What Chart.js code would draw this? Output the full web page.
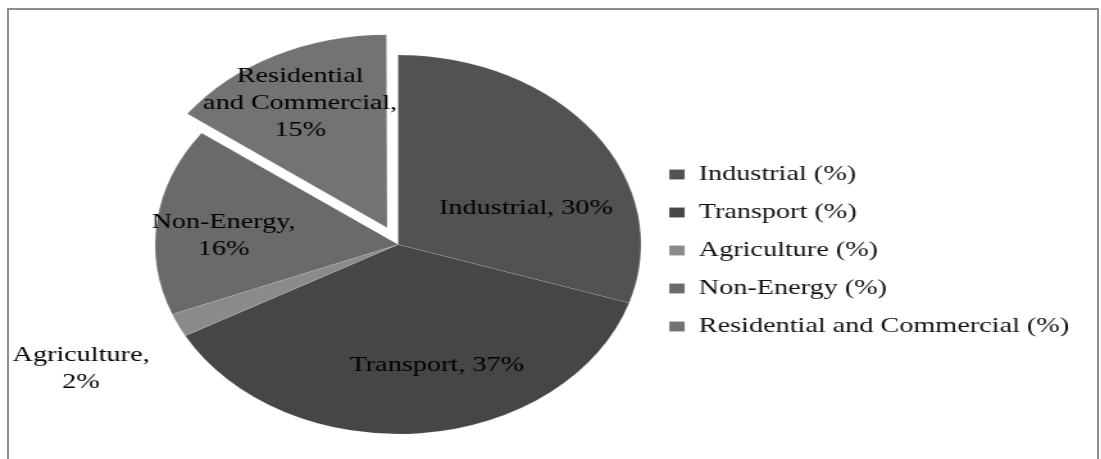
<!DOCTYPE html>
<html>
<head>
<meta charset="utf-8">
<title>Energy use by sector</title>
<script src="https://cdn.jsdelivr.net/npm/chart.js@4"></script>
<style>
  html, body { margin: 0; padding: 0; background: #fff; width: 1101px; height: 459px; overflow: hidden; }
  .frame {
    position: absolute; left: 7px; top: 8px; width: 1088px; height: 480px;
    border: 2px solid #8e8e8e; border-bottom: none;
  }
  /* the figure is drawn narrow and widened, so the pie comes out as an ellipse */
  .stretch { position: absolute; left: 0; top: 0; transform: scaleX(1.282); transform-origin: 0 0; }
</style>
</head>
<body>
<div class="frame"></div>
<div class="stretch"><canvas id="sectorChart" width="859" height="459"></canvas></div>
<script>
// sectors and their share of consumption (%)
const categories = ['Industrial', 'Transport', 'Agriculture', 'Non-Energy', 'Residential and Commercial'];
const shares = [30, 37, 2, 16, 15];
const legendLabels = categories.map(c => c + ' (%)');

const sliceColors = ['#525252', '#464646', '#8a8a8a', '#6a6a6a', '#737373'];
const sliceOffset = [0, 0, 0, 0, 75];

// where each slice label sits: fraction along the arc, fraction of the radius, words per line
const labelPlace = [
  { along: 0.65, radius: 0.56, wrap: [2] },
  { along: 0.435, radius: 0.655, wrap: [2] },
  { along: 0.3, radius: 1.46, wrap: [1, 1] },
  { along: 0.44, radius: 0.72, wrap: [1, 1] },
  { along: 0.47, radius: 0.73, wrap: [1, 2, 1] }
];

const sliceLabels = {
  id: 'sliceLabels',
  afterDatasetsDraw(chart) {
    const ctx = chart.ctx;
    const meta = chart.getDatasetMeta(0);
    ctx.save();
    ctx.font = '22px "Liberation Serif"';
    ctx.fillStyle = '#000';
    ctx.textAlign = 'center';
    ctx.textBaseline = 'middle';
    meta.data.forEach((arc, i) => {
      const p = arc.getProps(['x', 'y', 'startAngle', 'endAngle', 'outerRadius', 'circumference'], true);
      const mid = (p.startAngle + p.endAngle) / 2;
      // same shift the arc element applies to an offset slice
      const base = sliceOffset[i] / 4;
      const shift = base + base * (1 - Math.sin(Math.min(Math.PI, p.circumference)));
      const cx = p.x + Math.cos(mid) * shift;
      const cy = p.y + Math.sin(mid) * shift;
      const place = labelPlace[i];
      const a = p.startAngle + (p.endAngle - p.startAngle) * place.along;
      const lx = cx + Math.cos(a) * p.outerRadius * place.radius;
      const ly = cy + Math.sin(a) * p.outerRadius * place.radius;
      const words = (categories[i] + ', ' + shares[i] + '%').split(' ');
      const lines = [];
      let k = 0;
      place.wrap.forEach(n => { lines.push(words.slice(k, k + n).join(' ')); k += n; });
      lines.forEach((line, j) => {
        ctx.fillText(line, lx, ly + (j - (lines.length - 1) / 2) * 27);
      });
    });
    ctx.restore();
  }
};

new Chart(document.getElementById('sectorChart'), {
  type: 'pie',
  data: {
    labels: legendLabels,
    datasets: [{
      data: shares,
      backgroundColor: sliceColors,
      borderColor: 'rgba(255,255,255,0.12)',
      borderWidth: 1,
      offset: sliceOffset,
      hoverOffset: 0
    }]
  },
  options: {
    responsive: false,
    animation: false,
    radius: 189.5,
    layout: { padding: { left: 115, right: 15, top: 30, bottom: 0 } },
    plugins: {
      tooltip: { enabled: false },
      legend: {
        position: 'right',
        // empty title only pushes the entries a little lower
        title: { display: true, text: ' ', padding: 0, font: { size: 10 } },
        labels: {
          boxWidth: 12,
          boxHeight: 10,
          padding: 16,
          color: '#111',
          font: { family: 'Liberation Serif', size: 22 }
        }
      }
    }
  },
  plugins: [sliceLabels]
});
</script>
</body>
</html>
